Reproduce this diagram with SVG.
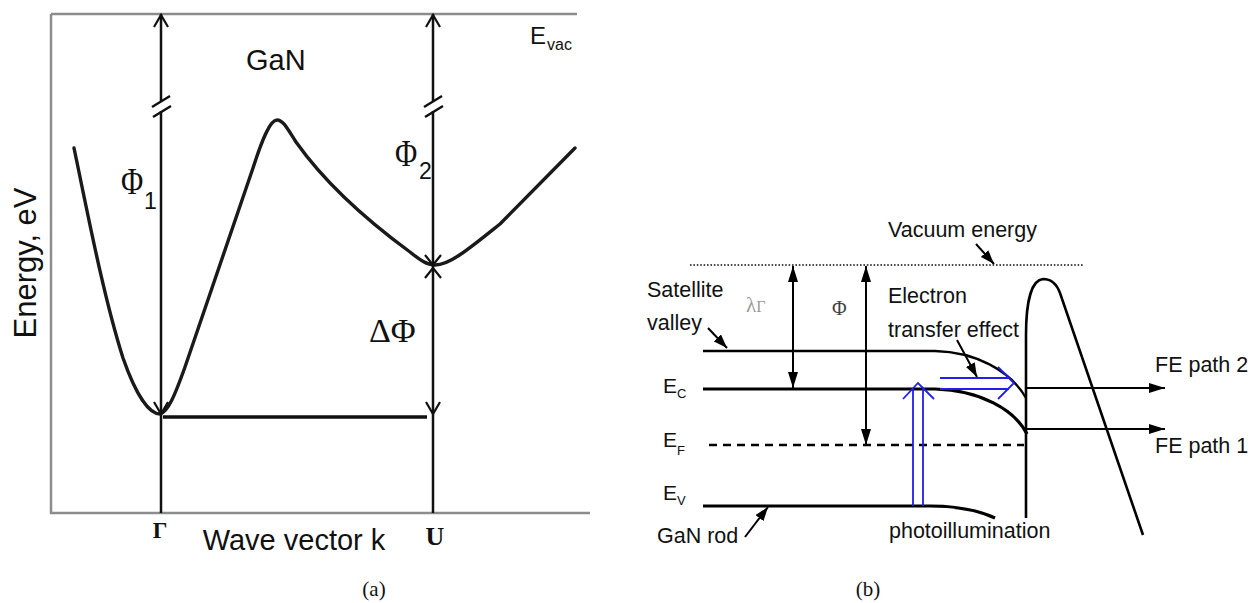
<svg xmlns="http://www.w3.org/2000/svg" width="1250" height="603" viewBox="0 0 1250 603">
<style>
.ax{stroke:#8c8c8c;stroke-width:2.5;fill:none}
.ln{stroke:#111;stroke-width:2.5;fill:none}
.crv{stroke:#1a1a1a;stroke-width:3.4;fill:none;stroke-linejoin:round;stroke-linecap:round}
.chev{stroke:#111;stroke-width:2.2;fill:none;stroke-linejoin:miter}
.sans{font-family:"Liberation Sans",Arial,sans-serif;fill:#111}
.serif{font-family:"Liberation Serif","DejaVu Serif",serif;fill:#111}
.blue{stroke:#1f1fe8;stroke-width:1.8;fill:none}
.band{stroke:#000;fill:none}
.ptr{stroke:#000;stroke-width:2;fill:none}
</style>
<defs>
<marker id="ah" viewBox="0 0 16 10" refX="16" refY="5" markerWidth="16" markerHeight="10" markerUnits="userSpaceOnUse" orient="auto-start-reverse"><path d="M0,0 L16,5 L0,10 z" fill="#000"/></marker>
<marker id="ahs" viewBox="0 0 14 10" refX="14" refY="5" markerWidth="14" markerHeight="10" markerUnits="userSpaceOnUse" orient="auto"><path d="M0,0 L14,5 L0,10 z" fill="#000"/></marker>
</defs>
<rect width="1250" height="603" fill="#fff"/>

<!-- ===== Panel (a) ===== -->
<g id="panel-a">
  <g id="a-axes">
    <path class="ax" d="M51,14 H577"/>
    <path class="ax" d="M51,14 V513 H590"/>
  </g>
  <g id="a-band-curve">
    <path class="crv" d="M74,148 C86,205 103,295 123,358 C137,398 150,414 160,414 C168,412 175,395 185,367 L253,168 C262,140 270,120 277,120 C283,120 287,128 296,142 C330,190 380,230 410,252 C420,260 427,265 435,265 C450,265 470,248 500,224 L575,148"/>
  </g>
  <g id="a-gamma-line">
    <path class="ln" d="M161,14 V101 M161,111 V513"/>
    <path class="ln" d="M152,107 L170,96 M153,117 L171,106"/>
  </g>
  <g id="a-u-line">
    <path class="ln" d="M433,14 V101 M433,111 V513"/>
    <path class="ln" d="M424,107 L442,96 M425,117 L443,106"/>
  </g>
  <g id="a-min-line">
    <path class="ln" style="stroke-width:3.5" d="M163,417 H427"/>
  </g>
  <g id="a-labels">
    <text class="sans" x="246" y="70" font-size="29">GaN</text>
    <text class="sans" x="530" y="44" font-size="24">E</text>
    <text class="sans" x="547" y="50" font-size="16">vac</text>
    <text class="serif" font-size="38" transform="translate(121,194) scale(0.8,1)">Φ</text>
    <text class="sans" x="144" y="209" font-size="23">1</text>
    <text class="serif" font-size="38" transform="translate(395,166) scale(0.8,1)">Φ</text>
    <text class="sans" x="419" y="179" font-size="23">2</text>
    <text class="serif" x="369" y="342" font-size="34">ΔΦ</text>
    <text class="serif" x="160" y="538" font-size="23" font-weight="bold" text-anchor="middle">Γ</text>
    <text class="serif" x="435" y="545" font-size="26" font-weight="bold" text-anchor="middle">U</text>
    <text class="sans" x="294" y="550" font-size="29" text-anchor="middle">Wave vector k</text>
    <text class="sans" font-size="31" text-anchor="middle" transform="translate(36,263) rotate(-90)">Energy, eV</text>
    <text class="serif" x="374" y="596" font-size="21" text-anchor="middle">(a)</text>
  </g>
</g>

<!-- ===== Panel (b) ===== -->
<g id="panel-b">
  <g id="b-vacuum">
    <path d="M690,265 H1083" stroke="#111" stroke-width="1.6" stroke-dasharray="1.6 1.8" fill="none"/>
  </g>
  <g id="b-satellite">
    <path class="band" stroke-width="2.3" d="M703,351 H935 C975,352 1010,370 1026,398"/>
  </g>
  <g id="b-ec">
    <path class="band" stroke-width="3.2" d="M703,389 H935 C980,390 1015,410 1027,434"/>
  </g>
  <g id="b-ef">
    <path class="band" stroke-width="2.6" stroke-dasharray="8 6" d="M709,445 H1024"/>
  </g>
  <g id="b-ev">
    <path class="band" stroke-width="3.2" d="M703,506 H930 C960,506 980,511 995,518"/>
  </g>
  <g id="b-barrier">
    <path class="band" stroke-width="2.6" stroke-linejoin="round" d="M1026,518 V335 C1026,300 1032,280 1043,279 C1050,279 1056,282 1060,293 L1143,535"/>
  </g>
  <g id="b-labels">
    <text class="sans" x="888" y="237" font-size="21.5">Vacuum energy</text>
    <text class="sans" x="647" y="297" font-size="21.5">Satellite</text>
    <text class="sans" x="647" y="330" font-size="21.5">valley</text>
    <text class="sans" x="888" y="303" font-size="21.5">Electron</text>
    <text class="sans" x="888" y="337" font-size="21.5">transfer effect</text>
    <text class="sans" x="663" y="393" font-size="21">E</text>
    <text class="sans" x="677" y="398" font-size="13">C</text>
    <text class="sans" x="663" y="447" font-size="21">E</text>
    <text class="sans" x="677" y="455" font-size="13">F</text>
    <text class="sans" x="663" y="500" font-size="21">E</text>
    <text class="sans" x="677" y="505" font-size="13">V</text>
    <text class="sans" x="657" y="543" font-size="21.5">GaN rod</text>
    <text class="sans" x="889" y="538" font-size="21.5">photoillumination</text>
    <text class="sans" x="1155" y="372" font-size="21.5">FE path 2</text>
    <text class="sans" x="1155" y="453" font-size="21.5">FE path 1</text>
    <text class="serif" x="746" y="312" font-size="21" style="fill:#9a9a9a">λ<tspan font-size="16">Γ</tspan></text>
    <text class="serif" x="832" y="315" font-size="20" style="fill:#444">Φ</text>
    <text class="serif" x="868" y="596" font-size="21" text-anchor="middle">(b)</text>
  </g>
  <g id="b-photo-arrow">
    <path class="blue" d="M913,506 V388 M923,506 V388 M903,399 L918,383 L934,399"/>
  </g>
  <g id="b-transfer-arrow">
    <path class="blue" d="M940,378 H1009 M940,389 H1009 M998,367 L1014,383 L998,399"/>
  </g>
</g>

<!-- ===== Connectors ===== -->
<g id="connectors">
  <path class="chev" d="M154,27 L161,15 L168,27"/>
  <path class="chev" d="M154,402 L161,414 L168,402"/>
  <path class="chev" d="M426,27 L433,15 L440,27"/>
  <path class="chev" d="M425,255 L433,265 L441,255"/>
  <path class="chev" d="M425,278 L433,268 L441,278"/>
  <path class="chev" d="M426,402 L433,414 L440,402"/>
  <path class="ptr" d="M793,266 V388" marker-start="url(#ah)" marker-end="url(#ah)"/>
  <path class="ptr" d="M866,266 V445" marker-start="url(#ah)" marker-end="url(#ah)"/>
  <path class="ptr" d="M1026,388 H1165" marker-end="url(#ah)"/>
  <path class="ptr" d="M1026,429 H1165" marker-end="url(#ah)"/>
  <path class="ptr" d="M976,244 L994,264" marker-end="url(#ahs)"/>
  <path class="ptr" d="M957,340 L977,377" marker-end="url(#ahs)"/>
  <path class="ptr" d="M708,328 L727,348" marker-end="url(#ahs)"/>
  <path class="ptr" d="M745,537 L768,507" marker-end="url(#ahs)"/>
</g>
</svg>
